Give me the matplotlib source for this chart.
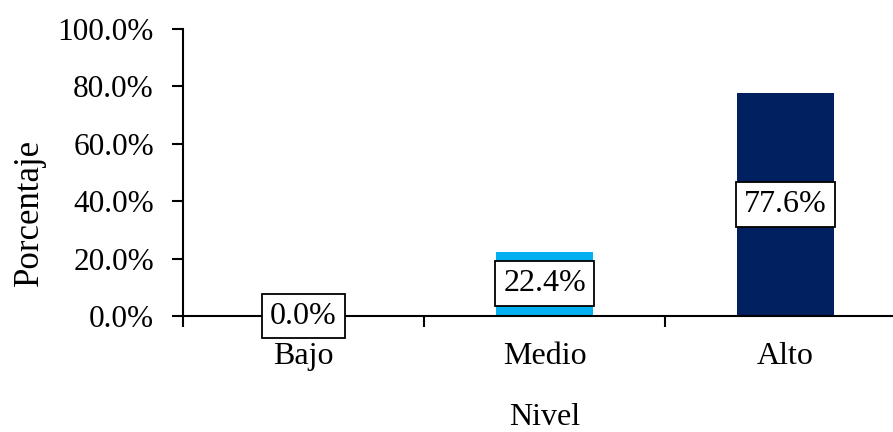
import matplotlib
matplotlib.use("Agg")
import matplotlib.pyplot as plt
from matplotlib.ticker import FixedLocator, NullFormatter, PercentFormatter

categories = ["Bajo", "Medio", "Alto"]
values = [0.0, 22.4, 77.6]
colors = ["#00B0F0", "#00B0F0", "#002060"]
yticks = [0, 20, 40, 60, 80, 100]

plt.rcParams["font.family"] = ["Liberation Serif", "DejaVu Serif"]

fig = plt.figure(figsize=(8.93, 4.32), dpi=100)
ax = fig.add_axes([0.205, 0.2685, 0.8096, 0.6644])

x = list(range(len(categories)))
ax.bar(x, values, width=0.4, color=colors, zorder=2)

for xi, v in zip(x, values):
    ax.text(xi, v / 2, f"{v:.1f}%", ha="center", va="center", fontsize=23,
            zorder=3,
            bbox=dict(boxstyle="square,pad=0.25", facecolor="white",
                      edgecolor="black", linewidth=1.3))

ax.set_xlim(-0.5, 2.5)
ax.set_ylim(0, 100)
ax.set_yticks(yticks)
ax.yaxis.set_major_formatter(PercentFormatter(decimals=1))

ax.set_xticks(x)
ax.set_xticklabels(categories)
ax.tick_params(axis="x", which="major", length=0, labelsize=23, pad=19)
ax.xaxis.set_minor_locator(FixedLocator([-0.5, 0.5, 1.5, 2.5]))
ax.xaxis.set_minor_formatter(NullFormatter())
ax.tick_params(axis="x", which="minor", length=8, width=1.5, direction="out")
ax.tick_params(axis="y", length=8, width=1.5, labelsize=22.5, pad=13)

for side in ("top", "right"):
    ax.spines[side].set_visible(False)
for side in ("left", "bottom"):
    ax.spines[side].set_linewidth(1.5)

ax.set_xlabel("Nivel", fontsize=23, labelpad=23)
ax.set_ylabel("Porcentaje", fontsize=25)
ax.yaxis.set_label_coords(-0.19, 0.362)

fig.savefig("out.png", dpi=100)
